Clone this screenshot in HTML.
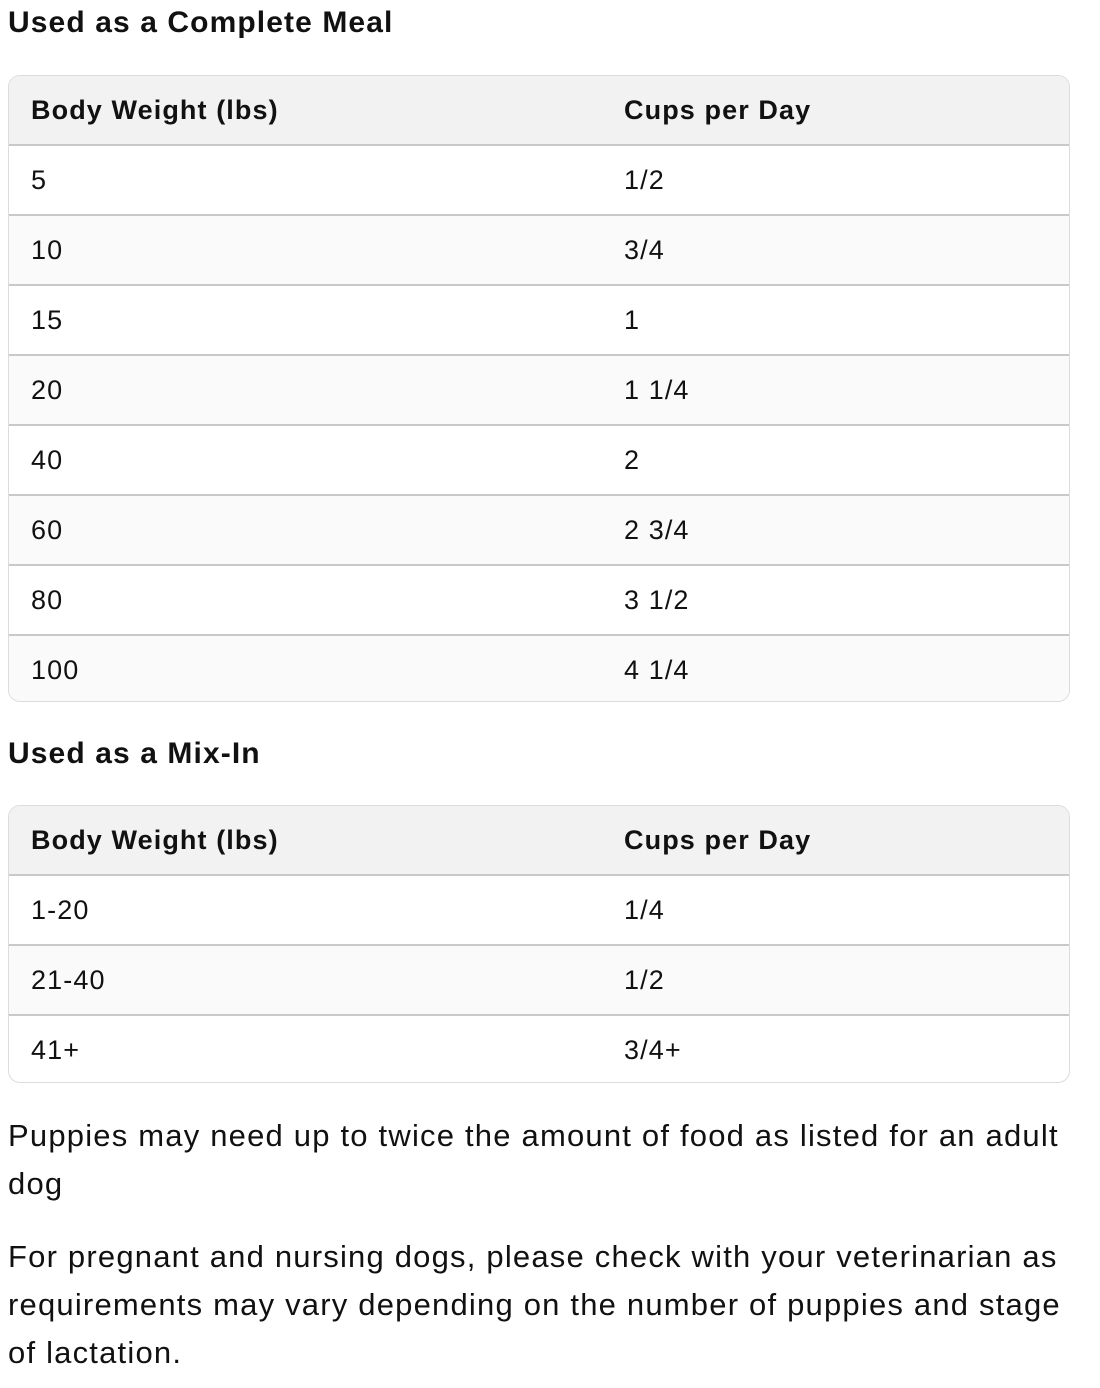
<!DOCTYPE html>
<html><head><style>
body{margin:0;background:#fff;font-family:"Liberation Sans",sans-serif;color:#111;width:1100px;}
h2{position:absolute;left:8px;margin:0;font-size:30px;font-weight:bold;letter-spacing:1.1px;}
.t{position:absolute;left:8px;width:1062px;border:1px solid #dcdcdc;border-radius:12px;overflow:hidden;box-sizing:border-box;}
.r{height:70px;display:flex;align-items:center;font-size:27px;letter-spacing:1.1px;border-top:2px solid #c9c9c9;box-sizing:border-box;position:relative;}
.r:first-child{border-top:none;height:68px;background:#f2f2f2;font-weight:bold;}
.r:nth-child(odd):not(:first-child){background:#fafafa;}
.r span:first-child{position:absolute;left:22px;}
.r span:last-child{position:absolute;left:615px;}
p{position:absolute;left:8px;width:1070px;margin:0;font-size:31px;letter-spacing:1.2px;line-height:48px;}
</style></head><body>
<h2 style="top:6px">Used as a Complete Meal</h2>
<div class="t" style="top:75px;height:627px">
<div class="r"><span>Body Weight (lbs)</span><span>Cups per Day</span></div>
<div class="r"><span>5</span><span>1/2</span></div>
<div class="r"><span>10</span><span>3/4</span></div>
<div class="r"><span>15</span><span>1</span></div>
<div class="r"><span>20</span><span>1 1/4</span></div>
<div class="r"><span>40</span><span>2</span></div>
<div class="r"><span>60</span><span>2 3/4</span></div>
<div class="r"><span>80</span><span>3 1/2</span></div>
<div class="r"><span>100</span><span>4 1/4</span></div>
</div>
<h2 style="top:737px">Used as a Mix-In</h2>
<div class="t" style="top:805px;height:278px">
<div class="r"><span>Body Weight (lbs)</span><span>Cups per Day</span></div>
<div class="r"><span>1-20</span><span>1/4</span></div>
<div class="r"><span>21-40</span><span>1/2</span></div>
<div class="r"><span>41+</span><span>3/4+</span></div>
</div>
<p style="top:1112px">Puppies may need up to twice the amount of food as listed for an adult dog</p>
<p style="top:1233px">For pregnant and nursing dogs, please check with your veterinarian as requirements may vary depending on the number of puppies and stage of lactation.</p>
</body></html>
